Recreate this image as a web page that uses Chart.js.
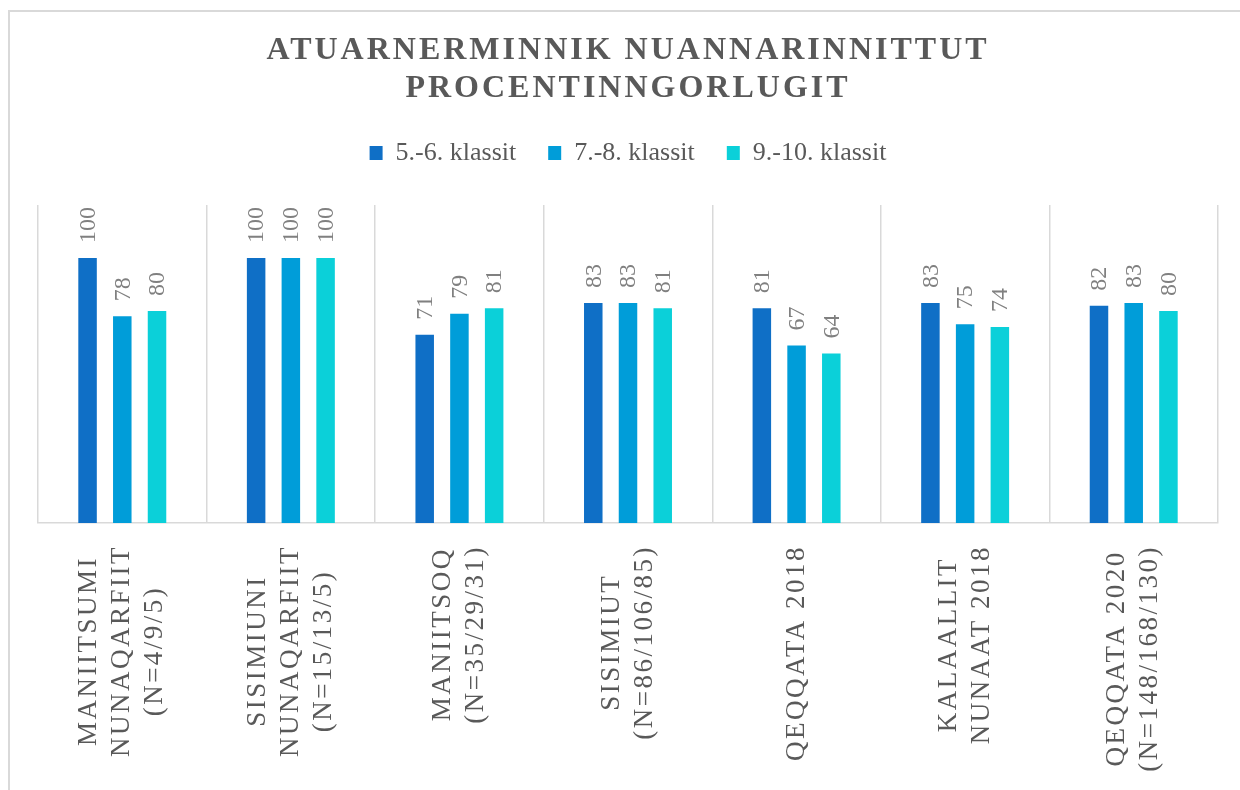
<!DOCTYPE html>
<html>
<head>
<meta charset="utf-8">
<script src="https://cdn.jsdelivr.net/npm/chart.js@4/dist/chart.umd.min.js"></script>
<style>
  html, body { margin: 0; padding: 0; width: 1240px; height: 790px; overflow: hidden; background: #fff; }
  .frame { position: absolute; left: 8px; top: 10px; width: 1400px; height: 900px; border-left: 2px solid #d9d9d9; border-top: 2px solid #d9d9d9; }
  #js-canvas-chart { position: absolute; left: 9px; top: 0; }
</style>
</head>
<body>
<div class="frame"></div>
<canvas id="js-canvas-chart" width="1240" height="790"></canvas>
<script>
  // category labels, one entry per line of text
  const categories = [
    ['MANIITSUMI', 'NUNAQARFIIT', '(N=4/9/5)'],
    ['SISIMIUNI', 'NUNAQARFIIT', '(N=15/13/5)'],
    ['MANIITSOQ', '(N=35/29/31)'],
    ['SISIMIUT', '(N=86/106/85)'],
    ['QEQQATA 2018'],
    ['KALAALLIT', 'NUNAAT 2018'],
    ['QEQQATA 2020', '(N=148/168/130)']
  ];
  const seriesNames = ['5.-6. klassit', '7.-8. klassit', '9.-10. klassit'];
  const grade56 = [100, 100, 71, 83, 81, 83, 82];
  const grade78 = [78, 100, 79, 83, 67, 75, 83];
  const grade910 = [80, 100, 81, 81, 64, 74, 80];
  const titleLines = ['ATUARNERMINNIK NUANNARINNITTUT', 'PROCENTINNGORLUGIT'];

  const serif = 'Liberation Serif';

  // spaced-out title + some room between legend and bars
  const tweaks = {
    id: 'tweaks',
    beforeInit(chart) {
      const fit = chart.legend.fit;
      chart.legend.fit = function () {
        fit.bind(chart.legend)();
        this.height += 29;
      };
      const draw = chart.titleBlock.draw;
      chart.titleBlock.draw = function (area) {
        chart.ctx.save();
        chart.ctx.letterSpacing = '3px';
        draw.call(this, area);
        chart.ctx.restore();
      };
    }
  };

  // rotated numbers above the bars
  const valueLabels = {
    id: 'valueLabels',
    afterDatasetsDraw(chart) {
      const ctx = chart.ctx;
      ctx.save();
      ctx.font = `24px "${serif}"`;
      ctx.fillStyle = '#808080';
      ctx.textAlign = 'left';
      ctx.textBaseline = 'middle';
      chart.data.datasets.forEach((ds, i) => {
        chart.getDatasetMeta(i).data.forEach((bar, j) => {
          ctx.save();
          ctx.translate(bar.x + 1, bar.y - 15);
          ctx.rotate(-Math.PI / 2);
          ctx.fillText(ds.data[j], 0, 0);
          ctx.restore();
        });
      });
      ctx.restore();
    }
  };

  // category names under the axis, rotated, lines centred on each other
  const axisLabels = {
    id: 'axisLabels',
    afterDraw(chart) {
      const ctx = chart.ctx;
      const xScale = chart.scales.x;
      ctx.save();
      ctx.font = `27px "${serif}"`;
      ctx.letterSpacing = '2.5px';
      ctx.fillStyle = '#595959';
      ctx.textAlign = 'center';
      ctx.textBaseline = 'middle';
      categories.forEach((lines, i) => {
        const longest = Math.max(...lines.map(l => ctx.measureText(l).width));
        const cx = xScale.getPixelForTick(i);
        const cy = xScale.top + 22 + longest / 2;
        lines.forEach((line, k) => {
          ctx.save();
          ctx.translate(cx + (k - (lines.length - 1) / 2) * 33, cy);
          ctx.rotate(-Math.PI / 2);
          ctx.fillText(line, 0, 0);
          ctx.restore();
        });
      });
      ctx.restore();
    }
  };

  const ctx = document.getElementById('js-canvas-chart');
  new Chart(ctx, {
    type: 'bar',
    data: {
      labels: categories,
      datasets: [
        { label: seriesNames[0], data: grade56, backgroundColor: '#0F6FC6' },
        { label: seriesNames[1], data: grade78, backgroundColor: '#009DD9' },
        { label: seriesNames[2], data: grade910, backgroundColor: '#0BD0D9' }
      ]
    },
    options: {
      responsive: false,
      animation: false,
      categoryPercentage: 0.618,
      barPercentage: 0.533,
      layout: { padding: { left: 29, right: 31, top: 0, bottom: 0 } },
      plugins: {
        title: {
          display: true,
          text: titleLines,
          color: '#595959',
          font: { family: serif, size: 32, weight: 'bold', lineHeight: 38 / 32 },
          padding: { top: 32, bottom: 0 }
        },
        legend: {
          labels: {
            color: '#595959',
            font: { family: serif, size: 26 },
            boxWidth: 13,
            boxHeight: 14,
            padding: 32
          }
        },
        tooltip: { enabled: false }
      },
      scales: {
        x: {
          grid: { color: '#d9d9d9', lineWidth: 1.5, drawTicks: false },
          border: { color: '#d9d9d9', width: 1.5 },
          ticks: { display: false },
          afterFit(scale) { scale.height = 267; }
        },
        y: { display: false, min: 0, max: 120 }
      }
    },
    plugins: [tweaks, valueLabels, axisLabels]
  });
</script>
</body>
</html>
